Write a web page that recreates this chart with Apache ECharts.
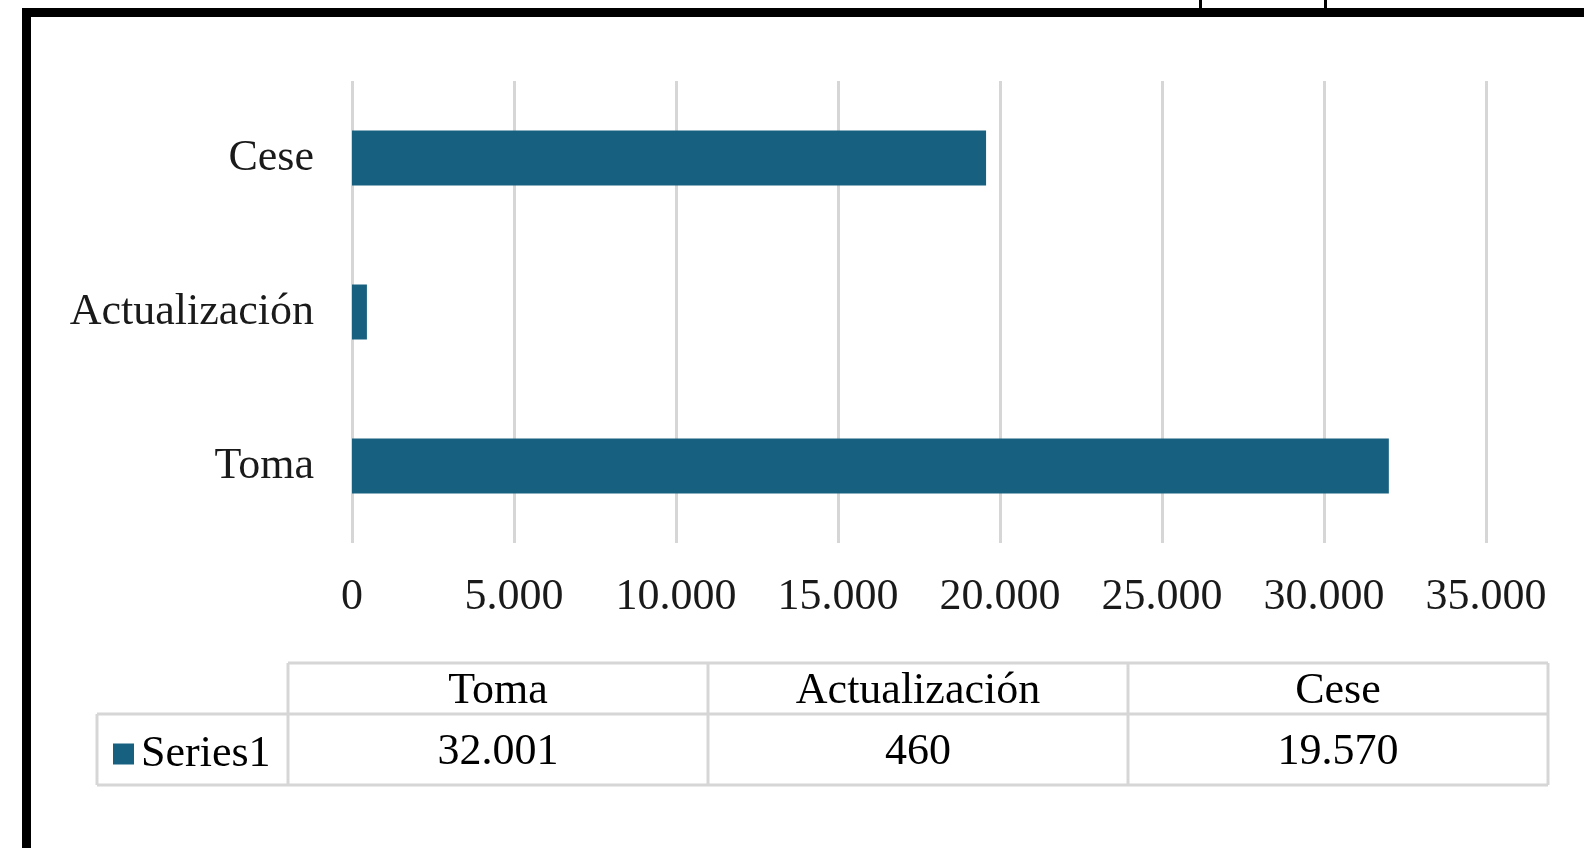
<!DOCTYPE html>
<html>
<head>
<meta charset="utf-8">
<script src="https://cdn.jsdelivr.net/npm/echarts@6/dist/echarts.min.js"></script>
<style>
  html, body { margin: 0; padding: 0; background: #fff; }
  #chart { width: 1584px; height: 848px; }
</style>
</head>
<body>
<div id="chart"></div>
<script>
// chart data
const categories = ["Toma", "Actualización", "Cese"];
const seriesName = "Series1";
const values = [32001, 460, 19570];
const tickValues = [0, 5000, 10000, 15000, 20000, 25000, 30000, 35000];

const barColor = "#17607F";
const gridColor = "#d6d6d6";
const font = "Liberation Serif";
const fontSize = 44;

const fmt = v => String(v).replace(/\B(?=(\d{3})+(?!\d))/g, ".");

// data table layout
const table = { left: 97, colStart: 288, colWidth: 420, top: 663, mid: 714, bottom: 785 };

function tableGraphics() {
  const els = [];
  const right = table.colStart + categories.length * table.colWidth;
  const line = (x1, y1, x2, y2) => ({
    type: "line",
    shape: { x1, y1, x2, y2 },
    style: { stroke: gridColor, lineWidth: 3 }
  });
  els.push(line(table.colStart, table.top, right, table.top));
  els.push(line(table.left, table.mid, right, table.mid));
  els.push(line(table.left, table.bottom, right, table.bottom));
  els.push(line(table.left, table.mid, table.left, table.bottom));
  for (let i = 0; i <= categories.length; i++) {
    const x = table.colStart + i * table.colWidth;
    els.push(line(x, table.top, x, table.bottom));
  }
  categories.forEach((c, i) => {
    const cx = table.colStart + (i + 0.5) * table.colWidth;
    els.push({
      type: "text",
      style: {
        text: c, x: cx, y: (table.top + table.mid) / 2 + 3,
        align: "center", verticalAlign: "middle",
        font: `${fontSize}px "${font}"`, fill: "#000"
      }
    });
    els.push({
      type: "text",
      style: {
        text: fmt(values[i]), x: cx, y: (table.mid + table.bottom) / 2 + 3,
        align: "center", verticalAlign: "middle",
        font: `${fontSize}px "${font}"`, fill: "#000"
      }
    });
  });
  return els;
}

const chart = echarts.init(document.getElementById("chart"), null, { renderer: "canvas" });

chart.setOption({
  animation: false,
  backgroundColor: "#fff",
  grid: { left: 352, right: 98, top: 81, bottom: 305, containLabel: false },
  legend: {
    data: [seriesName],
    left: 108,
    top: 727,
    icon: "rect",
    itemWidth: 21,
    itemHeight: 21,
    textStyle: { fontFamily: font, fontSize: fontSize, color: "#000", padding: [0, 0, 0, 2] }
  },
  xAxis: {
    type: "value",
    min: 0,
    max: 35000,
    interval: 5000,
    axisLine: { show: false },
    axisTick: { show: false },
    axisLabel: {
      margin: 32,
      fontFamily: font,
      fontSize: fontSize,
      color: "#1a1a1a",
      formatter: v => (tickValues.includes(v) ? fmt(v) : "")
    },
    splitLine: { lineStyle: { color: gridColor, width: 3 } }
  },
  yAxis: {
    type: "category",
    data: categories,
    axisLine: { show: false },
    axisTick: { show: false },
    axisLabel: { margin: 38, fontFamily: font, fontSize: fontSize, color: "#1a1a1a" }
  },
  series: [{
    name: seriesName,
    type: "bar",
    data: values,
    barWidth: 55,
    itemStyle: { color: barColor }
  }],
  graphic: [
    // outer black frame (top and left edges)
    { type: "rect", shape: { x: 22, y: 8, width: 1562, height: 9 }, style: { fill: "#000" } },
    { type: "rect", shape: { x: 22, y: 8, width: 9, height: 840 }, style: { fill: "#000" } },
    // stubs of the frame above
    { type: "rect", shape: { x: 1199, y: 0, width: 3, height: 8 }, style: { fill: "#000" } },
    { type: "rect", shape: { x: 1324, y: 0, width: 3, height: 8 }, style: { fill: "#000" } },
    ...tableGraphics()
  ]
});
</script>
</body>
</html>
